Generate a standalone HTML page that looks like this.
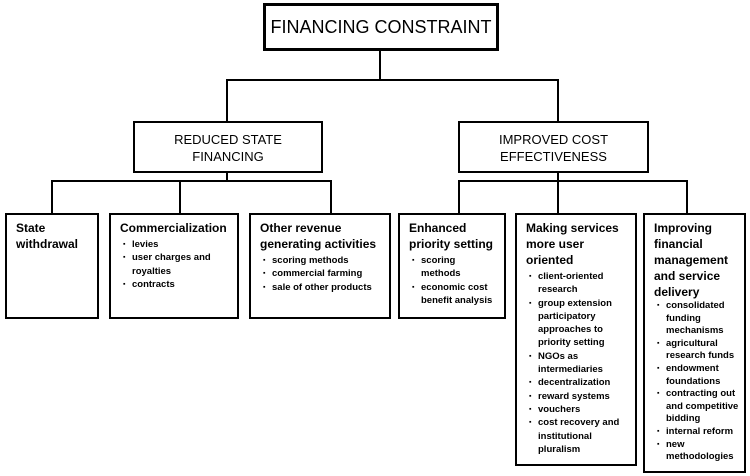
<!DOCTYPE html>
<html><head><style>
body{margin:0;width:750px;height:476px;background:#fff;position:relative;font-family:"Liberation Sans",sans-serif;color:#000;overflow:hidden}
.b{position:absolute;border:2px solid #000;box-sizing:border-box;background:#fff}
.l{position:absolute;background:#000}
.h{font-size:12px;font-weight:bold;line-height:16px;white-space:nowrap}
ul{margin:2px 0 0 0;padding:0 0 0 12px;font-size:9.5px;line-height:13.3px;font-weight:bold;list-style:none;white-space:nowrap}
li{position:relative}
li:before{content:"▪";position:absolute;left:-9px;font-size:7px}
.c{padding:5px 6px 5px 9px}
.m{text-align:center;font-size:13px;padding-top:8px;line-height:17px}
</style></head><body>
<div class="b" style="left:263px;top:3px;width:236px;height:48px;border-width:3px;font-size:18px;text-align:center;line-height:42px">FINANCING CONSTRAINT</div>
<div class="l" style="left:379px;top:51px;width:2px;height:30px"></div>
<div class="l" style="left:226px;top:79px;width:333px;height:2px"></div>
<div class="l" style="left:226px;top:79px;width:2px;height:43px"></div>
<div class="l" style="left:557px;top:79px;width:2px;height:43px"></div>
<div class="b m" style="left:133px;top:121px;width:190px;height:52px">REDUCED STATE<br>FINANCING</div>
<div class="b m" style="left:458px;top:121px;width:191px;height:52px">IMPROVED COST<br>EFFECTIVENESS</div>
<div class="l" style="left:226px;top:172px;width:2px;height:10px"></div>
<div class="l" style="left:51px;top:180px;width:281px;height:2px"></div>
<div class="l" style="left:51px;top:180px;width:2px;height:34px"></div>
<div class="l" style="left:179px;top:180px;width:2px;height:34px"></div>
<div class="l" style="left:330px;top:180px;width:2px;height:34px"></div>
<div class="l" style="left:557px;top:172px;width:2px;height:10px"></div>
<div class="l" style="left:458px;top:180px;width:230px;height:2px"></div>
<div class="l" style="left:458px;top:180px;width:2px;height:34px"></div>
<div class="l" style="left:557px;top:180px;width:2px;height:34px"></div>
<div class="l" style="left:686px;top:180px;width:2px;height:34px"></div>
<div class="b c" style="left:5px;top:213px;width:94px;height:106px"><div class="h">State<br>withdrawal</div></div>
<div class="b c" style="left:109px;top:213px;width:130px;height:106px"><div class="h">Commercialization</div><ul><li>levies</li><li>user charges and<br>royalties</li><li>contracts</li></ul></div>
<div class="b c" style="left:249px;top:213px;width:142px;height:106px"><div class="h">Other revenue<br>generating activities</div><ul><li>scoring methods</li><li>commercial farming</li><li>sale of other products</li></ul></div>
<div class="b c" style="left:398px;top:213px;width:108px;height:106px"><div class="h">Enhanced<br>priority setting</div><ul><li>scoring<br>methods</li><li>economic cost<br>benefit analysis</li></ul></div>
<div class="b c" style="left:515px;top:213px;width:122px;height:253px"><div class="h">Making services<br>more user<br>oriented</div><ul><li>client-oriented<br>research</li><li>group extension<br>participatory<br>approaches to<br>priority setting</li><li>NGOs as<br>intermediaries</li><li>decentralization</li><li>reward systems</li><li>vouchers</li><li>cost recovery and<br>institutional<br>pluralism</li></ul></div>
<div class="b c" style="left:643px;top:213px;width:103px;height:260px"><div class="h">Improving<br>financial<br>management<br>and service<br>delivery</div><ul style="margin-top:0;line-height:12.6px"><li>consolidated<br>funding<br>mechanisms</li><li>agricultural<br>research funds</li><li>endowment<br>foundations</li><li>contracting out<br>and competitive<br>bidding</li><li>internal reform</li><li>new<br>methodologies</li></ul></div>
</body></html>
